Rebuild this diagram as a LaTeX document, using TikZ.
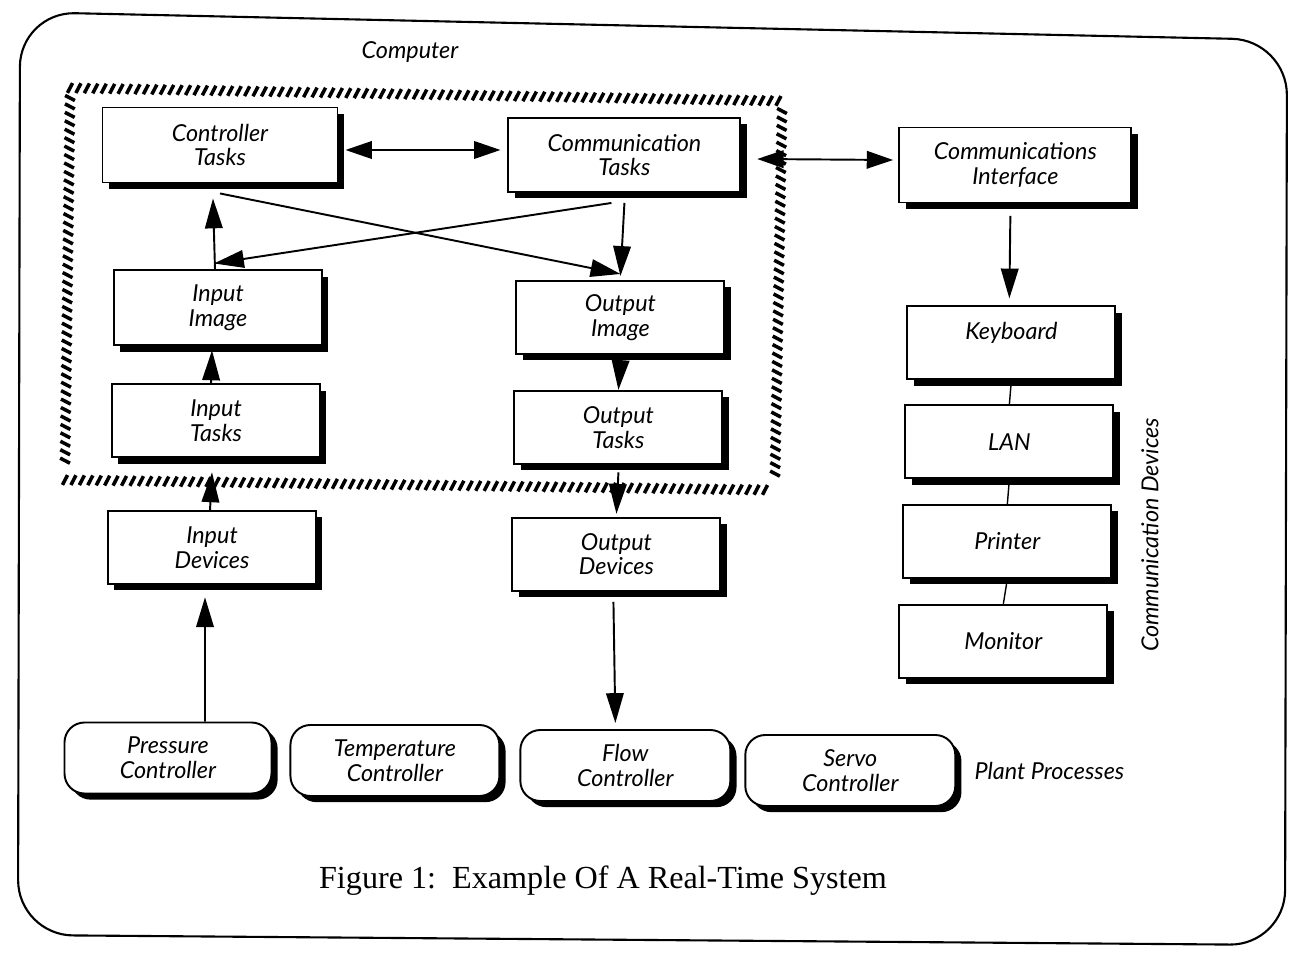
\documentclass[tikz,border=0pt]{standalone}
\usepackage{fontspec}
\setmainfont{Liberation Serif}
\newfontfamily\labelfont{Lato}
\usetikzlibrary{positioning,arrows.meta,shadows,decorations.markings}

\tikzset{
  task/.style={draw, line width=1.1pt, fill=white, align=center,
    minimum width=4.16cm, minimum height=1.46cm, inner sep=2pt,
    font=\labelfont\itshape\fontsize{13.3}{14}\selectfont,
    drop shadow={shadow xshift=3.5pt, shadow yshift=-3.5pt, opacity=1, fill=black}},
  plant/.style={task, rounded corners=0.4cm, minimum height=1.42cm},
  link/.style={line width=1.1pt, -{Triangle[length=17pt,width=10pt]}},
  twoway/.style={line width=1.1pt,
    {Triangle[length=15pt,width=10pt]}-{Triangle[length=15pt,width=10pt]}},
  hatch/.style={decorate, decoration={markings,
    mark=between positions 0 and 1 step 4.8pt with
      {\draw[line width=2pt] (-1.4pt,-2.8pt) -- (1.4pt,2.8pt);}}},
  caption/.style={font=\labelfont\itshape\fontsize{13.3}{14}\selectfont}
}

\begin{document}
\begin{tikzpicture}
\useasboundingbox (0,0) rectangle (25.88,-19.06);

% outer frame
\draw[line width=1.2pt, rounded corners=1.1cm]
  (13,-0.52) -- (25.74,-0.80) -- (25.70,-18.9) -- (0.36,-18.7) -- (0.40,-0.24) -- cycle;

% computer boundary
\coordinate (h1) at (1.40,-1.76);
\coordinate (h2) at (15.64,-2.02);
\coordinate (h3) at (15.50,-9.80);
\coordinate (h4) at (1.30,-9.60);
\path[hatch] (h1) -- (h2);
\path[hatch] ([yshift=-0.2cm]h2) -- ([yshift=0.3cm]h3);
\path[hatch] (h4) -- ([xshift=-0.1cm]h3);
\path[hatch] ([yshift=-0.2cm]h1) -- ([yshift=0.3cm]h4);
\node[caption] (cpu) at (8.2,-1.04) {Computer};

\node[task, minimum width=4.7cm, minimum height=1.5cm] (ctrl) at (4.40,-2.90) {Controller\\Tasks};
\node[task, minimum width=4.64cm, minimum height=1.48cm, right=3.38cm of ctrl, yshift=-0.2cm] (comm) {Communication\\Tasks};
\node[task, minimum width=4.64cm, minimum height=1.5cm, right=3.14cm of comm, yshift=-0.2cm] (ifc) {Communications\\Interface};

\node[task, minimum height=1.5cm, below=1.72cm of ctrl, xshift=-0.04cm] (inimg) {Input\\Image};
\node[task, below=0.74cm of inimg, xshift=-0.04cm] (intask) {Input\\Tasks};
\node[task, below=1.04cm of intask, xshift=-0.08cm] (indev) {Input\\Devices};

\node[task, below=1.74cm of comm, xshift=-0.08cm] (outimg) {Output\\Image};
\node[task, below=0.70cm of outimg, xshift=-0.04cm] (outtask) {Output\\Tasks};
\node[task, below=1.04cm of outtask, xshift=-0.04cm] (outdev) {Output\\Devices};

\node[task, below=2.04cm of ifc, xshift=-0.08cm] (kbd) {Keyboard\\\mbox{}};
\node[task, below=0.48cm of kbd, xshift=-0.04cm] (lan) {LAN};
\node[task, below=0.49cm of lan, xshift=-0.04cm] (prn) {Printer};
\node[task, below=0.50cm of prn, xshift=-0.08cm] (mon) {Monitor};
\node[caption, rotate=90] (devs) at (23.0,-10.7) {Communication Devices};

\node[plant, minimum width=4.14cm] (pres) at (3.36,-15.16) {Pressure\\Controller};
\node[plant, minimum width=4.18cm, right=0.34cm of pres, yshift=-0.05cm] (temp) {Temperature\\Controller};
\node[plant, minimum width=4.2cm, right=0.38cm of temp, yshift=-0.1cm] (flow) {Flow\\Controller};
\node[plant, minimum width=4.2cm, right=0.26cm of flow, yshift=-0.1cm] (servo) {Servo\\Controller};
\node[caption, right=0.36cm of servo, inner sep=0pt] (plant) {Plant Processes};

\node[font=\fontsize{18.3}{20}\selectfont] (fig) at (12.06,-17.62) {Figure 1:\ \ Example Of A Real-Time System};

% data flow
\draw[twoway] ([xshift=4pt,yshift=-0.1cm]ctrl.east) -- ([xshift=-4pt,yshift=0.1cm]comm.west);
\draw[twoway] ([xshift=9pt,yshift=-0.08cm]comm.east) -- ([xshift=-3pt,yshift=0.1cm]ifc.west);
\draw[link] ([yshift=-0.2cm]ctrl.south) -- ([yshift=0.12cm]outimg.north);
\draw[link] ([xshift=-0.26cm,yshift=-0.2cm]comm.south) -- ([xshift=-0.08cm,yshift=0.12cm]inimg.north);
\draw[link] ([yshift=-0.2cm]comm.south) -- ([yshift=0.08cm]outimg.north);
\draw[link] ([xshift=-0.06cm]inimg.north) -- ([xshift=-0.14cm,yshift=-0.3cm]ctrl.south);
\draw[link] ([xshift=-0.1cm]intask.north) -- ([xshift=-0.12cm,yshift=-0.08cm]inimg.south);
\draw[link] ([xshift=-0.04cm]indev.north) -- ([xshift=-0.08cm,yshift=-0.28cm]intask.south);
\draw[link] ([yshift=-0.15cm]outimg.south) -- (outtask.north);
\draw[link] ([yshift=-0.15cm]outtask.south) -- ([yshift=0.06cm]outdev.north);
\draw[link] ([xshift=0.74cm]pres.north) -- ([xshift=-0.14cm,yshift=-0.24cm]indev.south);
\draw[link] ([xshift=-0.06cm,yshift=-0.2cm]outdev.south) -- ([xshift=-0.2cm,yshift=0.12cm]flow.north);
\draw[link] ([xshift=-0.1cm,yshift=-0.25cm]ifc.south) -- ([xshift=-0.04cm,yshift=0.14cm]kbd.north);

% device chain
\draw[line width=0.8pt] (kbd.south) -- (lan.north);
\draw[line width=0.8pt] (lan.south) -- (prn.north);
\draw[line width=0.8pt] (prn.south) -- (mon.north);
\end{tikzpicture}
\end{document}
